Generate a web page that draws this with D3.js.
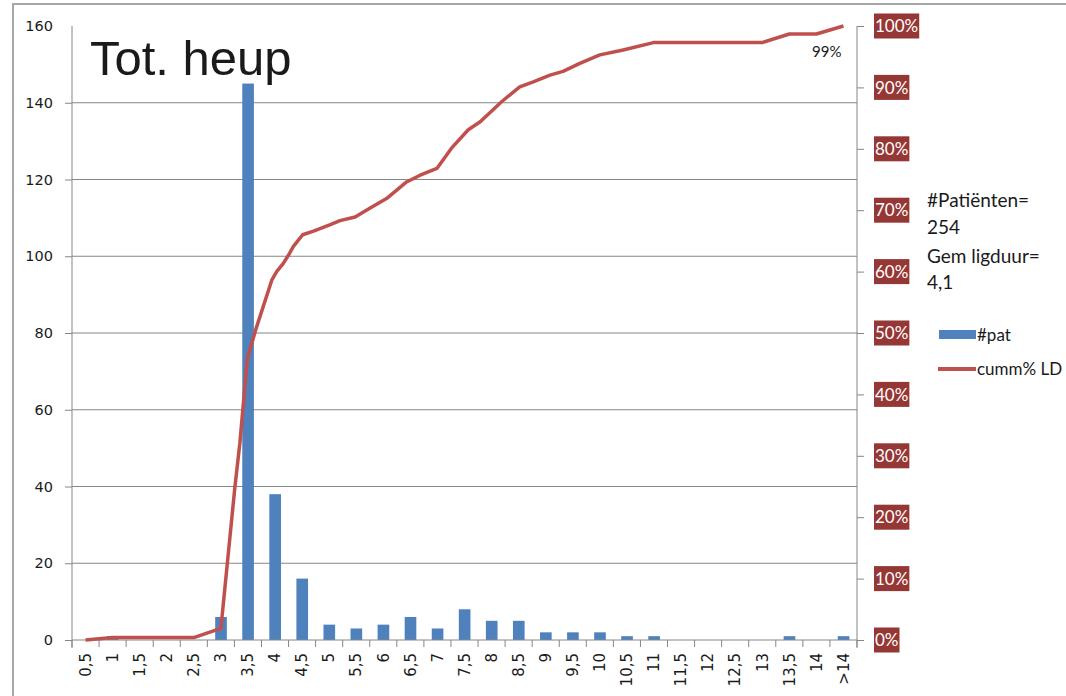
<!DOCTYPE html>
<html lang="nl">
<head>
<meta charset="UTF-8">
<title>Tot. heup</title>
<script src="https://d3js.org/d3.v7.min.js"></script>
<style>
    body { margin: 0; background: #fff; }
    text { font-family: "DejaVu Sans", sans-serif; fill: #1a1a1a; }
    .axis path, .axis line { stroke: #868686; }
    .grid line { stroke: #868686; stroke-width: 1; }
    .bar { fill: #4f81bd; }
    .cumm { fill: none; stroke: #c0504d; stroke-width: 3.5; stroke-linejoin: round; }
    .calibri { font-family: Lato, "Open Sans", sans-serif; }
    .pctLabel { fill: #fff; font-size: 17px; }
    .pctBox { fill: #953735; }
</style>
</head>
<body>
<script>
    const width = 1066;
    const height = 696;

    // categories (ligduur in dagen)
    const categories = ["0,5","1","1,5","2","2,5","3","3,5","4","4,5","5","5,5","6","6,5","7","7,5",
        "8","8,5","9","9,5","10","10,5","11","11,5","12","12,5","13","13,5","14",">14"];
    // #pat per category
    const patients = [0,1,0,0,0,6,145,38,16,4,3,4,6,3,8,5,5,2,2,2,1,1,0,0,0,0,1,0,1];

    // cumulative % curve (day position, percent)
    const cummDays = [0.5,1,2.5,3,3.26,3.35,3.41,3.49,3.57,3.66,3.94,4.03,4.15,4.25,4.34,4.51,4.71,
        5.01,5.2,5.48,5.75,6.06,6.43,6.68,6.99,7.26,7.57,7.79,8.19,8.52,8.77,9.08,9.32,9.63,
        10.0,10.43,10.99,13.0,13.5,14.0,14.5];
    const cummPct = [0,0.4,0.4,1.9,25,32,38,45.9,48.3,51,58.6,60,61.3,62.7,64.1,66,66.6,
        67.6,68.3,68.9,70.3,71.9,74.6,75.7,76.8,80.1,83.1,84.4,87.7,90.1,90.9,92,92.6,93.9,
        95.3,96.1,97.3,97.3,98.7,98.7,100];
    const endLabel = "99%";

    const leftTicks = [0,20,40,60,80,100,120,140,160];
    const rightTicks = [0,0.1,0.2,0.3,0.4,0.5,0.6,0.7,0.8,0.9,1];

    const infoLines = ["#Patiënten=", "254", "Gem ligduur=", "4,1"];
    const legendItems = ["#pat", "cumm% LD"];

    const plot = {left: 72, right: 857, top: 26, bottom: 640};

    const x = d3.scaleBand().domain(categories).range([plot.left, plot.right]);
    const bw = x.bandwidth();
    const yL = d3.scaleLinear().domain([0,160]).range([plot.bottom, plot.top]);
    const yR = d3.scaleLinear().domain([0,1]).range([plot.bottom, plot.top]);
    const xDay = d3.scaleLinear().domain([0.5, 14.5])
        .range([x(categories[0]) + bw/2, x(categories[categories.length-1]) + bw/2]);

    const svg = d3.select("body").append("svg").attr("width", width).attr("height", height);

    // chart border
    svg.append("rect").attr("x", 13).attr("y", 4).attr("width", width).attr("height", height)
        .attr("fill", "none").attr("stroke", "#a6a6a6").attr("stroke-width", 2);

    // gridlines
    svg.append("g").attr("class", "grid")
        .selectAll("line")
        .data(leftTicks.filter(d => d > 0 && d < 160))
        .enter().append("line")
        .attr("x1", plot.left).attr("x2", plot.right)
        .attr("y1", d => yL(d)).attr("y2", d => yL(d));

    // left axis
    const left = svg.append("g").attr("class", "axis")
        .attr("transform", `translate(${plot.left},0)`)
        .call(d3.axisLeft(yL).tickValues(leftTicks).tickSize(7).tickPadding(12).tickSizeOuter(0));
    left.select(".domain").attr("d", `M0,${plot.top}V${plot.bottom + 8}`);
    left.selectAll("text").style("font-size", "14.5px").attr("fill", "#1a1a1a");
    left.selectAll(".tick").filter(d => d === 160).select("line").remove();

    // bars
    svg.append("g").selectAll("rect")
        .data(categories)
        .enter().append("rect")
        .attr("class", "bar")
        .attr("x", d => x(d) + bw*0.29)
        .attr("width", bw*0.43)
        .attr("y", (d, i) => yL(patients[i]))
        .attr("height", (d, i) => yL(0) - yL(patients[i]));

    // x axis
    const xa = svg.append("g").attr("class", "axis");
    xa.append("line").attr("x1", plot.left).attr("x2", plot.right)
        .attr("y1", plot.bottom).attr("y2", plot.bottom);
    xa.selectAll("line.tk")
        .data(categories.map(c => x(c)).concat([plot.right]))
        .enter().append("line").attr("class", "tk")
        .attr("x1", d => d).attr("x2", d => d)
        .attr("y1", plot.bottom).attr("y2", plot.bottom + 7);
    xa.selectAll("text")
        .data(categories)
        .enter().append("text")
        .attr("transform", d => `translate(${x(d) + bw/2},${plot.bottom + 13}) rotate(-90)`)
        .attr("text-anchor", "end")
        .attr("dy", "0.35em")
        .style("font-size", "15px")
        .text(d => d);

    // right axis
    const right = svg.append("g").attr("class", "axis")
        .attr("transform", `translate(${plot.right},0)`)
        .call(d3.axisRight(yR).tickValues(rightTicks).tickSize(7).tickSizeOuter(0).tickFormat(d3.format(".0%")));
    right.select(".domain").attr("d", `M0,${plot.top}V${plot.bottom + 8}`);
    right.selectAll("text").remove();
    const rl = svg.append("g").selectAll("g")
        .data(rightTicks)
        .enter().append("g")
        .attr("transform", d => `translate(874,${yR(d)})`);
    rl.append("rect").attr("class", "pctBox");
    rl.append("text").attr("class", "calibri pctLabel")
        .attr("x", 1).attr("dy", "0.36em")
        .text(d => d3.format(".0%")(d));
    rl.each(function() {
        const g = d3.select(this);
        const w = g.select("text").node().getComputedTextLength();
        g.select("rect").attr("x", 0).attr("y", -12.5).attr("width", w + 2).attr("height", 25);
    });

    // cumulative line
    const line = d3.line()
        .x(d => xDay(d[0]))
        .y(d => yR(d[1] / 100));
    svg.append("path").attr("class", "cumm")
        .attr("d", line(cummDays.map((d, i) => [d, cummPct[i]])));

    svg.append("text").attr("class", "calibri")
        .attr("x", xDay(cummDays[cummDays.length-1]) - 2)
        .attr("y", yR(cummPct[cummPct.length-1] / 100) + 31)
        .attr("text-anchor", "end")
        .style("font-size", "15px")
        .text(endLabel);

    // title
    svg.append("text").attr("x", 90).attr("y", 75)
        .style("font-family", "'Liberation Sans', Arial, sans-serif")
        .style("font-size", "49px").attr("fill", "#000")
        .text("Tot. heup");

    // info text
    svg.append("g").selectAll("text")
        .data(infoLines)
        .enter().append("text").attr("class", "calibri")
        .attr("x", 927)
        .attr("y", (d, i) => [200, 227, 256, 282][i])
        .attr("dy", "0.35em")
        .style("font-size", "19px")
        .text(d => d);

    // legend
    const lg = svg.append("g").attr("transform", "translate(938,0)");
    lg.append("rect").attr("class", "bar").attr("x", 1).attr("y", 330).attr("width", 37).attr("height", 9);
    lg.append("line").attr("x1", 0).attr("x2", 38).attr("y1", 369).attr("y2", 369)
        .attr("stroke", "#c0504d").attr("stroke-width", 4);
    lg.selectAll("text.lg")
        .data(legendItems)
        .enter().append("text").attr("class", "calibri lg")
        .attr("x", 39)
        .attr("y", (d, i) => [335, 369][i])
        .attr("dy", "0.35em")
        .style("font-size", "17px")
        .text(d => d);
</script>
</body>
</html>
